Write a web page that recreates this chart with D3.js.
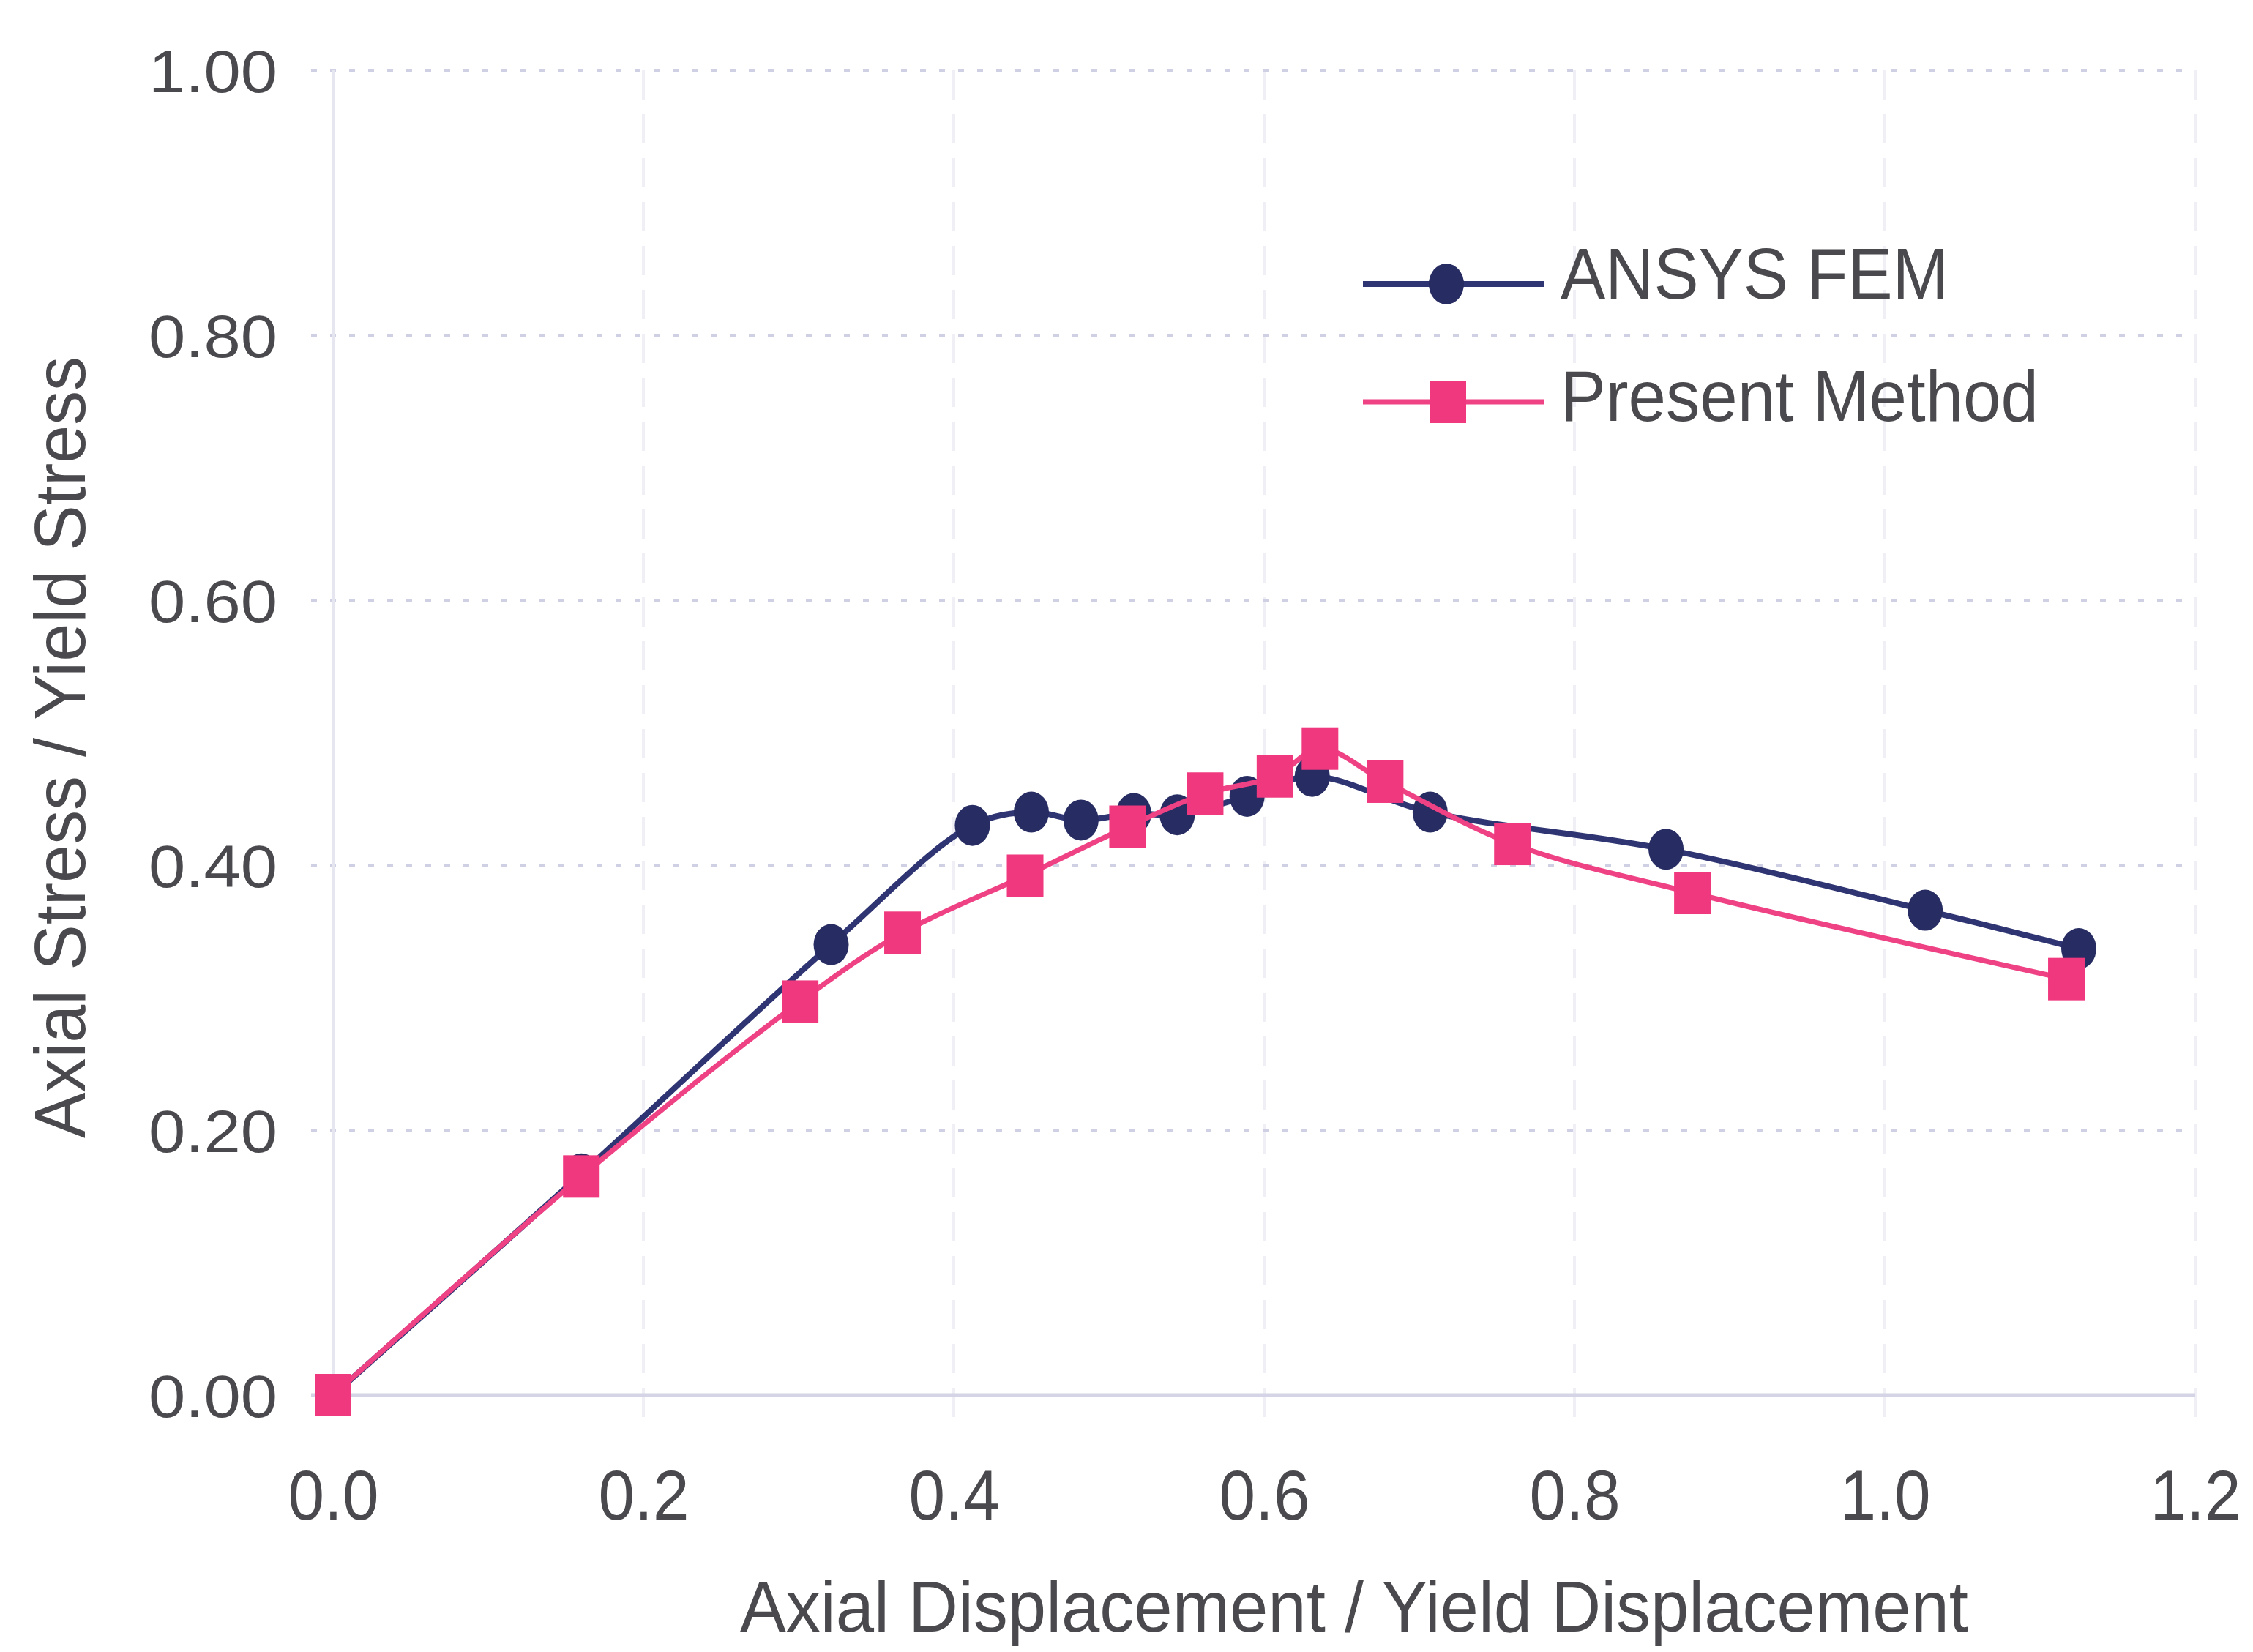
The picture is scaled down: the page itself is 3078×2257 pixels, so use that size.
<!DOCTYPE html>
<html>
<head>
<meta charset="utf-8">
<script src="https://cdn.jsdelivr.net/npm/d3@7"></script>
<style>
  html, body { margin: 0; padding: 0; background: #ffffff; }
  svg { display: block; }
</style>
</head>
<body>
<script>
// ---- data ----
const ansysX   = [0, 0.160, 0.321, 0.412, 0.450, 0.482, 0.516, 0.544, 0.589, 0.631, 0.707, 0.859, 1.026, 1.125];
const ansysY   = [0, 0.167, 0.340, 0.430, 0.440, 0.434, 0.439, 0.438, 0.452, 0.467, 0.440, 0.412, 0.366, 0.337];
const presentX = [0, 0.160, 0.301, 0.367, 0.446, 0.512, 0.562, 0.607, 0.636, 0.678, 0.760, 0.876, 1.117];
const presentY = [0, 0.165, 0.297, 0.349, 0.392, 0.429, 0.454, 0.467, 0.488, 0.463, 0.416, 0.379, 0.314];
const xTicks = [0, 0.2, 0.4, 0.6, 0.8, 1.0, 1.2];
const yTicks = [0, 0.2, 0.4, 0.6, 0.8, 1.0];
const seriesNames = ["ANSYS FEM", "Present Method"];
const xTitle = "Axial Displacement / Yield Displacement";
const yTitle = "Axial Stress / Yield Stress";

const W = 3078, H = 2257;
const navy = "#272d62", navyLine = "#2f3573", pink = "#f0387f", pinkLine = "#ef4285";
const textCol = "#4a4a4e";

const svg = d3.select("body").append("svg").attr("width", W).attr("height", H);

const x = d3.scaleLinear().domain([0, 1.2]).range([455, 2999]);
const y = d3.scaleLinear().domain([0, 1.0]).range([1906, 96]);

// vertical faint grid
svg.append("g").selectAll("line").data(xTicks.slice(1)).join("line")
  .attr("x1", d => x(d)).attr("x2", d => x(d))
  .attr("y1", y(1)).attr("y2", y(0) + 30)
  .attr("stroke", "#efeff5").attr("stroke-width", 4).attr("stroke-dasharray", "40,20");

// horizontal dotted grid
svg.append("g").selectAll("line").data(yTicks.slice(1)).join("line")
  .attr("x1", x(0) - 30).attr("x2", x(1.2))
  .attr("y1", d => y(d)).attr("y2", d => y(d))
  .attr("stroke", "#cfd0e4").attr("stroke-width", 4).attr("stroke-dasharray", "8,18");

// axes lines
svg.append("line").attr("x1", x(0)).attr("x2", x(0)).attr("y1", y(1)).attr("y2", y(0))
  .attr("stroke", "#e6e6f0").attr("stroke-width", 4);
svg.append("line").attr("x1", x(0) - 30).attr("x2", x(1.2)).attr("y1", y(0)).attr("y2", y(0))
  .attr("stroke", "#d4d4e6").attr("stroke-width", 5);

// tick labels
const yAxis = d3.axisLeft(y).tickValues(yTicks).tickFormat(d3.format(".2f")).tickSize(0).tickPadding(76);
const gy = svg.append("g").attr("transform", `translate(${x(0)},0)`).call(yAxis);
gy.select(".domain").remove();
gy.selectAll("text").attr("font-family", "Liberation Sans, Arial, sans-serif")
  .attr("font-size", 82).attr("fill", textCol).attr("dy", "0.36em")
  .attr("textLength", 176).attr("lengthAdjust", "spacingAndGlyphs");

const xAxis = d3.axisBottom(x).tickValues(xTicks).tickFormat(d3.format(".1f")).tickSize(0).tickPadding(0);
const gx = svg.append("g").attr("transform", `translate(0,${y(0)})`).call(xAxis);
gx.select(".domain").remove();
gx.selectAll("text").attr("font-family", "Liberation Sans, Arial, sans-serif")
  .attr("font-size", 96).attr("fill", textCol).attr("dy", 0).attr("y", 170)
  .attr("textLength", 124).attr("lengthAdjust", "spacingAndGlyphs");

// axis titles
svg.append("text").attr("x", 1850).attr("y", 2229).attr("text-anchor", "middle")
  .attr("font-family", "Liberation Sans, Arial, sans-serif").attr("font-size", 98).attr("fill", textCol)
  .attr("textLength", 1678).attr("lengthAdjust", "spacingAndGlyphs").text(xTitle);
svg.append("text").attr("transform", "translate(116,1021) rotate(-90)").attr("text-anchor", "middle")
  .attr("font-family", "Liberation Sans, Arial, sans-serif").attr("font-size", 98).attr("fill", textCol)
  .attr("textLength", 1068).attr("lengthAdjust", "spacingAndGlyphs").text(yTitle);

// series
const ansys = ansysX.map((d, i) => ({x: d, y: ansysY[i]}));
const present = presentX.map((d, i) => ({x: d, y: presentY[i]}));
const line = d3.line().x(d => x(d.x)).y(d => y(d.y)).curve(d3.curveCatmullRom.alpha(0.5));

svg.append("path").datum(ansys).attr("d", line).attr("fill", "none")
  .attr("stroke", navyLine).attr("stroke-width", 8).attr("stroke-linejoin", "round");
svg.append("g").selectAll("ellipse").data(ansys.slice(1)).join("ellipse")
  .attr("cx", d => x(d.x)).attr("cy", d => y(d.y)).attr("rx", 24).attr("ry", 28).attr("fill", navy);

svg.append("path").datum(present).attr("d", line).attr("fill", "none")
  .attr("stroke", pinkLine).attr("stroke-width", 7).attr("stroke-linejoin", "round");
svg.append("g").selectAll("rect").data(present).join("rect")
  .attr("x", d => x(d.x) - 25).attr("y", d => y(d.y) - 29).attr("width", 50).attr("height", 58).attr("fill", pink);

// legend
const legendRows = [
  {name: seriesNames[0], cy: 388, col: navyLine, mk: "circle", tl: 530},
  {name: seriesNames[1], cy: 549, col: pinkLine, mk: "square", tl: 653}
];
const lg = svg.append("g");
legendRows.forEach(r => {
  lg.append("line").attr("x1", 1862).attr("x2", 2110).attr("y1", r.cy).attr("y2", r.cy)
    .attr("stroke", r.col).attr("stroke-width", r.mk === "circle" ? 8 : 7);
  if (r.mk === "circle") {
    lg.append("ellipse").attr("cx", 1976).attr("cy", r.cy).attr("rx", 24).attr("ry", 28).attr("fill", navy);
  } else {
    lg.append("rect").attr("x", 1953).attr("y", r.cy - 29).attr("width", 50).attr("height", 58).attr("fill", pink);
  }
  lg.append("text").attr("x", 2132).attr("y", r.cy + (r.mk === "circle" ? 20 : 26))
    .attr("font-family", "Liberation Sans, Arial, sans-serif").attr("font-size", 98).attr("fill", textCol)
    .attr("textLength", r.tl).attr("lengthAdjust", "spacingAndGlyphs").text(r.name);
});
</script>
</body>
</html>
